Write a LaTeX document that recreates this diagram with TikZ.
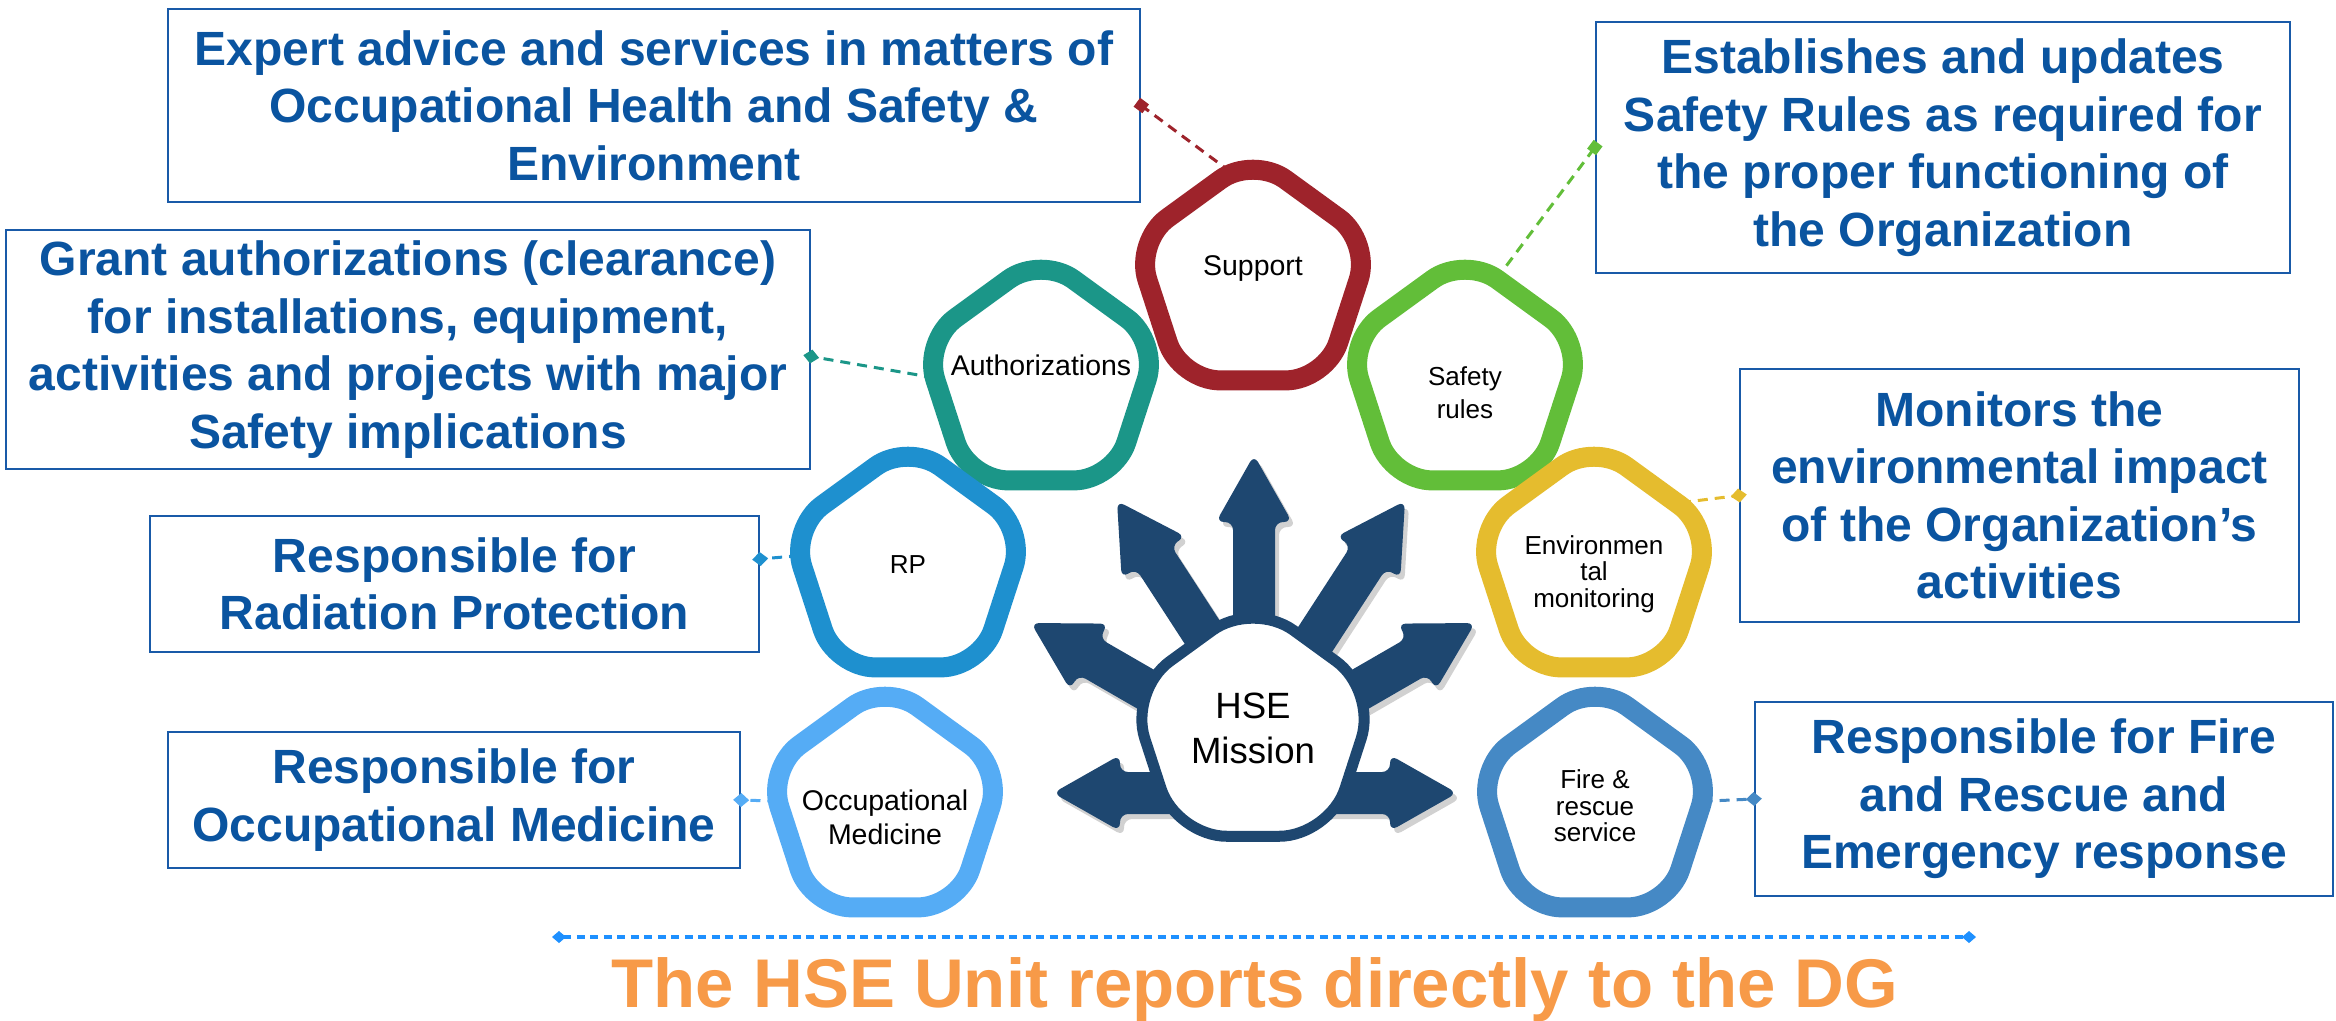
\documentclass[tikz,border=0pt]{standalone}
\usepackage{fontspec}
\setmainfont{Liberation Sans}
\usetikzlibrary{shapes.geometric,arrows.meta}
\definecolor{cSupp}{RGB}{158,35,43}
\definecolor{cSafe}{RGB}{98,190,57}
\definecolor{cAuth}{RGB}{27,150,136}
\definecolor{cEnv}{RGB}{229,188,46}
\definecolor{cRP}{RGB}{30,144,207}
\definecolor{cOcc}{RGB}{85,172,245}
\definecolor{cFire}{RGB}{69,137,197}
\definecolor{cNavy}{RGB}{30,71,112}
\definecolor{cBox}{RGB}{25,90,168}
\definecolor{cText}{RGB}{10,84,160}
\definecolor{cOrange}{RGB}{247,154,72}
\definecolor{cDot}{RGB}{30,144,255}
\newcommand\hsearrow[3]{%
  \begin{scope}[shift={(4,5)}]
    \begin{scope}[shift={#1},rotate=#2]
      \fill[black,opacity=0.18,rounded corners=0.08cm] (0,0) -- (-67,38) -- (-67,21) -- (-#3,21) -- (-#3,-21) -- (-67,-21) -- (-67,-38) -- cycle;
    \end{scope}
  \end{scope}
  \begin{scope}[shift={#1},rotate=#2]
    \fill[cNavy,rounded corners=0.08cm] (0,0) -- (-67,38) -- (-67,21) -- (-#3,21) -- (-#3,-21) -- (-67,-21) -- (-67,-38) -- cycle;
  \end{scope}}
\begin{document}
\begin{tikzpicture}[x=0.01cm,y=-0.01cm,
  pent/.style={regular polygon, regular polygon sides=5, minimum size=2.48cm,
    line width=0.2cm, rounded corners=0.4cm, draw=#1, fill=white, inner sep=0pt},
  plabel/.style={font=\fontsize{8.1pt}{9.7pt}\selectfont, align=center, inner sep=0pt},
  slabel/.style={font=\fontsize{7.4pt}{7.5pt}\selectfont, align=center, inner sep=0pt},
  infobox/.style={draw=cBox, line width=0.02cm, fill=white, text=cText,
    font=\bfseries\fontsize{13.66pt}{16.36pt}\selectfont, align=center, inner sep=0pt},
  link/.style={draw=#1, line width=0.03cm, dash pattern=on 0.1cm off 0.07cm, shorten <=-3pt},
  dmark/.style={-{Diamond[length=0.16cm,width=0.14cm]}, shorten >=-0.08cm},
  smark/.style={-{Square[length=0.11cm,width=0.11cm]}, shorten >=-0.055cm}
]
\useasboundingbox (0,0) rectangle (2336,1020);

% central arrows
\hsearrow{(1254,455)}{90}{245}
\hsearrow{(1117,501)}{123}{200}
\hsearrow{(1405,501)}{57}{200}
\hsearrow{(1031,623)}{150}{200}
\hsearrow{(1475,623)}{30}{200}
\hsearrow{(1053,793)}{180}{160}
\hsearrow{(1457,793)}{0}{160}

% central pentagon
\node[regular polygon, regular polygon sides=5, minimum size=2.6cm, line width=0.11cm,
  rounded corners=0.5cm, draw=cNavy, fill=white, inner sep=0pt] (hse) at (1253,731) {};
\node[font=\fontsize{10.4pt}{12.8pt}\selectfont, align=center, inner sep=0pt] (hsetext) at (1253,728) {HSE\\Mission};

% pentagons
\node[pent=cSupp] (support) at (1253,280) {};
\node[pent=cAuth] (auth) at (1041,380) {};
\node[pent=cSafe] (safety) at (1465,380) {};
\node[pent=cRP] (rp) at (908,567) {};
\node[pent=cEnv] (env) at (1594,567) {};
\node[pent=cOcc] (occ) at (885,807) {};
\node[pent=cFire] (fire) at (1595,807) {};

\node[plabel] (supportT) at (1253,268) {Support};
\node[plabel] (authT) at (1041,365) {Authorizations};
\node[slabel, font=\fontsize{7.4pt}{9.4pt}\selectfont] (safetyT) at (1465,393) {Safety\\rules};
\node[slabel] (rpT) at (908,565) {RP};
\node[slabel] (envT) at (1594,574) {Environmen\\tal\\monitoring};
\node[plabel] (occT) at (885,817) {Occupational\\Medicine};
\node[slabel] (fireT) at (1595,806) {Fire \&\\rescue\\service};

% info boxes
\node[infobox, minimum width=9.72cm, minimum height=1.93cm] (expert) at (654,105.5)
  {Expert advice and services in matters of\\Occupational Health and Safety \&\\Environment};
\node[infobox, minimum width=6.94cm, minimum height=2.51cm] (rules) at (1943,147.5)
  {Establishes and updates\\Safety Rules as required for\\the proper functioning of\\the Organization};
\node[infobox, minimum width=8.04cm, minimum height=2.39cm] (grant) at (408,349.5)
  {Grant authorizations (clearance)\\for installations, equipment,\\activities and projects with major\\Safety implications};
\node[infobox, minimum width=5.59cm, minimum height=2.53cm] (monitor) at (2019.5,495.5)
  {Monitors the\\environmental impact\\of the Organization’s\\activities};
\node[infobox, minimum width=6.09cm, minimum height=1.36cm] (rpbox) at (454.5,584)
  {Responsible for\\Radiation Protection};
\node[infobox, minimum width=5.72cm, minimum height=1.36cm] (occbox) at (454,800)
  {Responsible for\\Occupational Medicine};
\node[infobox, minimum width=5.78cm, minimum height=1.94cm] (firebox) at (2044,799)
  {Responsible for Fire\\and Rescue and\\Emergency response};

% connectors
\draw[link=cSupp, smark, cSupp] (support.105) -- (expert.east);
\draw[link=cSafe, smark, cSafe] (safety.71) -- (rules.west);
\draw[link=cAuth, dmark, cAuth] (auth.178) -- ([yshift=-0.07cm]grant.east);
\draw[link=cEnv, dmark, cEnv] (env.34) -- (monitor.west);
\draw[link=cRP, dmark, cRP] (rp.175) -- ([yshift=0.25cm]rpbox.east);
\draw[link=cOcc, dmark, cOcc] (occ.177) -- (occbox.east);
\draw[link=cFire, dmark, cFire] (fire.3) -- (firebox.west);

% bottom line and statement
\coordinate (dl) at (552,937);
\coordinate (dr) at (1976,937);
\draw[cDot, line width=0.035cm, dash pattern=on 0.08cm off 0.055cm,
  {Diamond[length=0.14cm,width=0.12cm]}-{Diamond[length=0.14cm,width=0.12cm]}] (dl) -- (dr);
\node[anchor=base, text=cOrange, font=\bfseries\fontsize{19.6pt}{23pt}\selectfont, inner sep=0pt]
  (report) at (1255,1007) {The HSE Unit reports directly to the DG};
\end{tikzpicture}
\end{document}
